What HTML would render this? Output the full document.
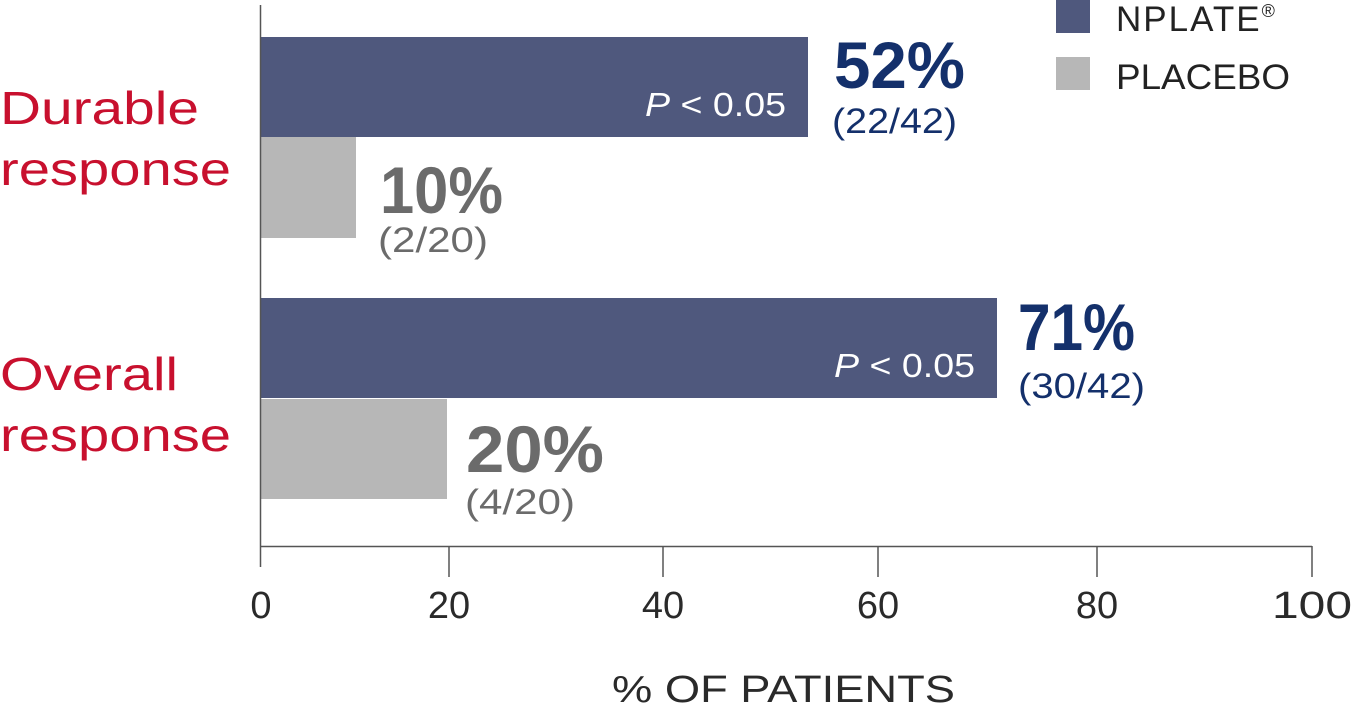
<!DOCTYPE html>
<html><head><style>body{margin:0;background:#fff}svg{display:block}</style></head>
<body>
<svg width="1353" height="703" xmlns="http://www.w3.org/2000/svg" font-family="Liberation Sans, sans-serif">
<rect x="1056" y="0" width="34" height="33" fill="#4f587d"/>
<rect x="1056" y="57" width="34" height="33" fill="#b7b7b7"/>
<text x="1116" y="31" font-size="35" fill="#222" letter-spacing="2">NPLATE<tspan font-size="18" dy="-14">®</tspan></text>
<text x="1116" y="89" font-size="35" fill="#222" textLength="174" lengthAdjust="spacingAndGlyphs">PLACEBO</text>

<rect x="261" y="37" width="547" height="100" fill="#4f587d"/>
<rect x="261" y="137" width="95" height="101" fill="#b7b7b7"/>
<rect x="261" y="298" width="736" height="100" fill="#4f587d"/>
<rect x="261" y="399" width="186" height="100" fill="#b7b7b7"/>

<line x1="260.5" y1="5" x2="260.5" y2="567" stroke="#555" stroke-width="1.5"/>
<line x1="260" y1="546.5" x2="1312" y2="546.5" stroke="#555" stroke-width="1.5"/>
<g stroke="#555" stroke-width="1.5">
<line x1="449" y1="546" x2="449" y2="577"/><line x1="663" y1="546" x2="663" y2="577"/>
<line x1="878" y1="546" x2="878" y2="577"/><line x1="1097" y1="546" x2="1097" y2="577"/>
<line x1="1312" y1="546" x2="1312" y2="577"/></g>
<g font-size="38" fill="#2a2a2a" text-anchor="middle">
<text x="261" y="618">0</text><text x="449" y="618">20</text><text x="663" y="618">40</text>
<text x="878" y="618">60</text><text x="1097" y="618">80</text><text x="1312" y="618" textLength="80" lengthAdjust="spacingAndGlyphs">100</text>
</g>
<text x="612" y="702" font-size="38" fill="#2a2a2a" textLength="343" lengthAdjust="spacingAndGlyphs">% OF PATIENTS</text>

<g font-size="46" fill="#c8102e" lengthAdjust="spacingAndGlyphs">
<text x="0" y="124" textLength="199" lengthAdjust="spacingAndGlyphs">Durable</text>
<text x="0" y="185" textLength="231" lengthAdjust="spacingAndGlyphs">response</text>
<text x="0" y="390" textLength="178" lengthAdjust="spacingAndGlyphs">Overall</text>
<text x="0" y="451" textLength="231" lengthAdjust="spacingAndGlyphs">response</text></g>

<g font-size="33" fill="#fff">
<text x="645" y="116" textLength="141" lengthAdjust="spacingAndGlyphs"><tspan font-style="italic">P</tspan> &lt; 0.05</text>
<text x="834" y="377" textLength="141" lengthAdjust="spacingAndGlyphs"><tspan font-style="italic">P</tspan> &lt; 0.05</text></g>

<text x="834" y="88" font-size="66" font-weight="bold" fill="#14306b" textLength="131" lengthAdjust="spacingAndGlyphs">52%</text>
<text x="832" y="133" font-size="35" fill="#14306b" textLength="125" lengthAdjust="spacingAndGlyphs">(22/42)</text>
<text x="1018" y="350" font-size="66" font-weight="bold" fill="#14306b" textLength="117" lengthAdjust="spacingAndGlyphs">71%</text>
<text x="1018" y="398" font-size="35" fill="#14306b" textLength="127" lengthAdjust="spacingAndGlyphs">(30/42)</text>
<text x="380" y="213" font-size="66" font-weight="bold" fill="#6b6b6b" textLength="123" lengthAdjust="spacingAndGlyphs">10%</text>
<text x="378" y="252" font-size="35" fill="#6b6b6b" textLength="110" lengthAdjust="spacingAndGlyphs">(2/20)</text>
<text x="466" y="472" font-size="66" font-weight="bold" fill="#6b6b6b" textLength="138" lengthAdjust="spacingAndGlyphs">20%</text>
<text x="465" y="514" font-size="35" fill="#6b6b6b" textLength="110" lengthAdjust="spacingAndGlyphs">(4/20)</text>
</svg>
</body></html>
